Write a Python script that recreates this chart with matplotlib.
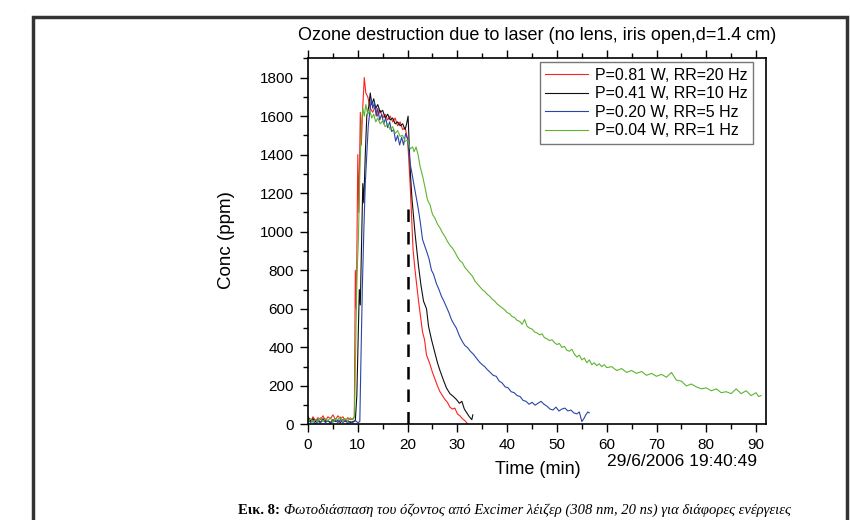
import matplotlib
matplotlib.use("Agg")
import matplotlib.pyplot as plt
from matplotlib.patches import Rectangle
from matplotlib.ticker import MultipleLocator

# ── Data (time in min, concentration in ppm) ────────────────────────────────
red_t = [0, 0.5, 1, 1.5, 2, 2.5, 3, 3.5, 4, 4.5, 5, 5.5, 6, 6.5, 7, 7.5, 8, 8.5, 9, 9.3,
         9.5, 9.7, 10.0, 10.2, 10.5, 10.7, 11.0, 11.3, 11.6, 12.0, 12.5, 13, 13.5, 14, 14.5,
         15, 15.5, 16, 16.5, 17, 17.5, 18, 18.5, 19, 19.5, 20, 20.2, 20.5, 20.8, 21.1, 21.5,
         21.8, 22.2, 22.5, 23, 23.4, 23.8, 24.4, 25, 25.5, 26, 26.5, 27, 27.5, 28, 28.5, 29,
         29.5, 30, 30.5, 31, 31.5, 32]
red_c = [30, 15, 40, 20, 35, 25, 45, 20, 40, 30, 50, 25, 45, 30, 40, 20, 35, 25, 30, 40,
         800, 600, 1400, 1100, 1620, 1450, 1650, 1800, 1720, 1700, 1640, 1620, 1650, 1600, 1630,
         1590, 1610, 1580, 1600, 1570, 1590, 1550, 1570, 1530, 1540, 1480, 1390, 1250, 1080, 905, 800,
         730, 640, 580, 480, 440, 360, 320, 270, 235, 200, 170, 150, 130, 115, 90, 80,
         85, 55, 45, 30, 20, 5]

black_t = [0, 0.5, 1, 1.5, 2, 2.5, 3, 3.5, 4, 4.5, 5, 5.5, 6, 6.5, 7, 7.5, 8, 8.5, 9, 9.5,
           9.8, 10.1, 10.3, 10.5, 10.8, 11.0, 11.2, 11.5, 11.8, 12.2, 12.5, 12.8, 13.2, 13.6,
           14, 14.5, 15, 15.5, 16, 16.5, 17, 17.5, 18, 18.5, 19, 19.5, 19.8, 20.1, 20.4, 20.6,
           20.9, 21.5, 22.2, 22.7, 23.2, 23.8, 24.2, 24.8, 25.5, 26, 26.5, 27.2, 27.8, 28.5,
           29.2, 29.8, 30.4, 30.9, 31.4, 31.9, 32.4, 32.9, 33.1]
black_c = [40, 20, 30, 15, 25, 10, 30, 15, 20, 10, 25, 15, 20, 10, 25, 15, 20, 10, 15, 20,
           150, 480, 700, 620, 1000, 1250, 1150, 1400, 1600, 1650, 1720, 1660, 1690, 1640,
           1660, 1620, 1630, 1590, 1610, 1580, 1590, 1560, 1570, 1550, 1560, 1530, 1560, 1600, 1400, 1285,
           1165, 990, 820, 720, 640, 600, 510, 440, 370, 320, 280, 230, 190, 160,
           145, 130, 110, 120, 80, 60, 40, 25, 50]

blue_t = [0, 0.5, 1, 1.5, 2, 2.5, 3, 3.5, 4, 4.5, 5, 5.5, 6, 6.5, 7, 7.5, 8, 8.5, 9, 9.5,
          10, 10.4, 10.6, 10.9, 11.2, 11.5, 11.8, 12.1, 12.4, 12.7, 13.0, 13.3, 13.7, 14.0,
          14.4, 14.8, 15.2, 15.6, 16.0, 16.4, 16.8, 17.2, 17.6, 18.0, 18.4, 18.8, 19.2, 19.6,
          20.0, 20.5, 20.9, 21.3, 21.8, 22.2, 22.6, 23.0, 23.4, 23.8, 24.3, 24.8, 25.2, 25.8,
          26.3, 26.8, 27.2, 27.8, 28.3, 28.8, 29.2, 29.8, 30.4, 31.0, 31.5, 32.0, 32.6, 33.2,
          33.8, 34.4, 35.0, 35.5, 36.0, 36.6, 37.2, 37.8, 38.4, 39.0, 39.6, 40.2, 40.8, 41.4,
          42.0, 42.6, 43.2, 43.8, 44.4, 45.0, 45.6, 46.2, 46.8, 47.4, 48.0, 48.6, 49.2, 49.8,
          50.4, 51.0, 51.6, 52.2, 52.8, 53.4, 54.0, 54.5, 55.0, 55.4, 55.8, 56.2, 56.5]
blue_c = [25, 10, 20, 5, 15, 10, 25, 10, 20, 5, 15, 20, 10, 25, 10, 20, 5, 15, 10, 20,
          10, 15, 300, 700, 1000, 1250, 1400, 1550, 1620, 1690, 1640, 1670, 1600, 1640,
          1580, 1610, 1560, 1590, 1540, 1570, 1520, 1530, 1470, 1500, 1450, 1490, 1450, 1510,
          1480, 1355, 1300, 1240, 1170, 1110, 1040, 960, 930, 900, 860, 800, 780, 730,
          700, 665, 645, 610, 580, 545, 525, 500, 460, 430, 410, 400, 380, 365,
          345, 325, 310, 300, 285, 270, 255, 250, 225, 215, 195, 190, 170, 165,
          150, 145, 125, 120, 105, 115, 100, 110, 120, 105, 95, 80, 75, 90,
          70, 80, 85, 70, 75, 60, 55, 65, 15, 30, 50, 65, 60]

green_t = [0, 0.5, 1, 1.5, 2, 2.5, 3, 3.5, 4, 4.5, 5, 5.5, 6, 6.5, 7, 7.5, 8, 8.5, 9, 9.3,
           9.5, 9.8, 10.1, 10.4, 10.7, 11.0, 11.3, 11.6, 12.0, 12.4, 12.8, 13.2, 13.6, 14.0,
           14.5, 15.0, 15.5, 16.0, 16.5, 17.0, 17.5, 18.0, 18.5, 19.0, 19.5, 20.0, 20.5, 21.0,
           21.3, 21.7, 22.1, 22.5, 23.0, 23.5, 24.0, 24.5, 25.0, 25.5, 26.0, 26.5, 27.0, 27.5,
           28.0, 28.5, 29.0, 29.5, 30.0, 30.5, 31.0, 31.5, 32.0, 32.5, 33.0, 33.5, 34.0, 34.5,
           35.0, 35.5, 36.0, 36.5, 37.0, 37.5, 38.0, 38.5, 39.0, 39.5, 40.0, 40.5, 41.0, 41.5,
           42.0, 42.5, 43.0, 43.5, 44.0, 44.5, 45.0, 45.5, 46.0, 46.5, 47.0, 47.5, 48.0, 48.5,
           49.0, 49.5, 50.0, 50.5, 51.0, 51.5, 52.0, 52.5, 53.0, 53.5, 54.0, 54.5, 55.0, 55.5,
           56.0, 56.5, 57.0, 57.5, 58.0, 58.5, 59.0, 59.5, 60.0, 61, 62, 63, 64, 65, 66, 67,
           68, 69, 70, 71, 72, 73, 74, 75, 76, 77, 78, 79, 80, 81, 82, 83, 84, 85, 86, 87,
           88, 89, 90, 90.5, 91]
green_c = [15, 30, 10, 25, 20, 35, 15, 30, 20, 35, 10, 30, 25, 40, 15, 30, 20, 35, 25, 40,
           300, 750, 950, 1300, 1550, 1640, 1600, 1660, 1610, 1630, 1590, 1610, 1570, 1590,
           1560, 1575, 1545, 1560, 1530, 1545, 1510, 1525, 1495, 1500, 1470, 1475, 1430, 1440,
           1415, 1440, 1400, 1340, 1290, 1230, 1165, 1140, 1090, 1070, 1040, 1020, 995, 975,
           950, 930, 915, 895, 870, 850, 840, 815, 800, 785, 770, 745, 730, 715,
           700, 690, 675, 665, 650, 640, 625, 615, 605, 595, 580, 575, 560, 555,
           540, 535, 520, 545, 510, 500, 495, 480, 475, 465, 470, 450, 445, 435,
           440, 425, 415, 420, 400, 405, 385, 380, 390, 365, 350, 360, 335, 345,
           320, 335, 310, 320, 305, 315, 300, 310, 295, 300, 280, 290, 270, 280, 265, 275,
           255, 265, 250, 260, 245, 270, 230, 225, 200, 210, 195, 185, 190, 175, 185, 165, 170, 160, 185, 160,
           175, 150, 165, 145, 150]

labels = ["P=0.81 W, RR=20 Hz", "P=0.41 W, RR=10 Hz",
          "P=0.20 W, RR=5 Hz", "P=0.04 W, RR=1 Hz"]
colors = ["#ff2020", "#101010", "#2a45a8", "#5db530"]

laser_off_t = 20      # dashed marker
laser_off_top = 1165

SANS = ["Liberation Sans", "DejaVu Sans"]
SERIF = ["Liberation Serif", "DejaVu Serif"]

fig = plt.figure(figsize=(8.5, 5.2), dpi=100)
ax = fig.add_axes([0.3624, 0.1837, 0.5388, 0.7042])

for t, c, lab, col in zip([red_t, black_t, blue_t, green_t],
                          [red_c, black_c, blue_c, green_c], labels, colors):
    ax.plot(t, c, color=col, lw=0.8, label=lab)

ax.plot([laser_off_t, laser_off_t], [0, laser_off_top], color="black",
        lw=1.8, dashes=(5, 4))

ax.set_xlim(0, 92)
ax.set_ylim(0, 1900)
ax.xaxis.set_major_locator(MultipleLocator(10))
ax.xaxis.set_minor_locator(MultipleLocator(5))
ax.yaxis.set_major_locator(MultipleLocator(200))
ax.yaxis.set_minor_locator(MultipleLocator(100))
ax.tick_params(which="both", direction="out", top=True, right=False,
               labeltop=False, width=1.0, colors="black")
ax.tick_params(which="major", length=6, pad=4)
ax.tick_params(which="minor", length=3.5)
for s in ax.spines.values():
    s.set_linewidth(1.2)
for lbl in ax.get_xticklabels() + ax.get_yticklabels():
    lbl.set_family(SANS)
    lbl.set_fontsize(11)

ax.set_title("Ozone destruction due to laser (no lens, iris open,d=1.4 cm)",
             family=SANS, fontsize=13, pad=13)
ax.set_ylabel("Conc (ppm)", family=SANS, fontsize=13.5)
ax.yaxis.set_label_coords(-0.16, 0.504)

fig.text(538 / 850, 1 - 469 / 520, "Time (min)", family=SANS, fontsize=13,
         ha="center", va="center")
fig.text(682 / 850, 1 - 462 / 520, "29/6/2006 19:40:49", family=SANS,
         fontsize=12.5, ha="center", va="center")

leg = ax.legend(loc="upper right", prop={"family": SANS, "size": 11.5},
                frameon=True, fancybox=False, handlelength=2.7,
                handletextpad=0.4, labelspacing=0.22, borderpad=0.35,
                borderaxespad=0, bbox_to_anchor=(0.9716, 0.989))
leg.get_frame().set_edgecolor("#555555")
leg.get_frame().set_linewidth(1.0)

# page frame and caption of the scanned figure
fig.patches.append(Rectangle((33 / 850, -0.2), (847 - 33) / 850, 1.2 - 17 / 520,
                             transform=fig.transFigure, fill=False,
                             edgecolor="#333333", lw=2.5))
cap_y = 1 - 514 / 520
cap1 = fig.text(238 / 850, cap_y, "Εικ. 8:", family=SERIF, fontsize=10.5,
                fontweight="bold", ha="left", va="baseline")
fig.canvas.draw()
bb = cap1.get_window_extent()
fig.text((bb.x1 + 4) / 850, cap_y,
         "Φωτοδιάσπαση του όζοντος από Excimer λέιζερ (308 nm, 20 ns) για διάφορες ενέργειες",
         family=SERIF, fontsize=10.5, fontstyle="italic", ha="left", va="baseline")

fig.savefig("out.png", dpi=100)
